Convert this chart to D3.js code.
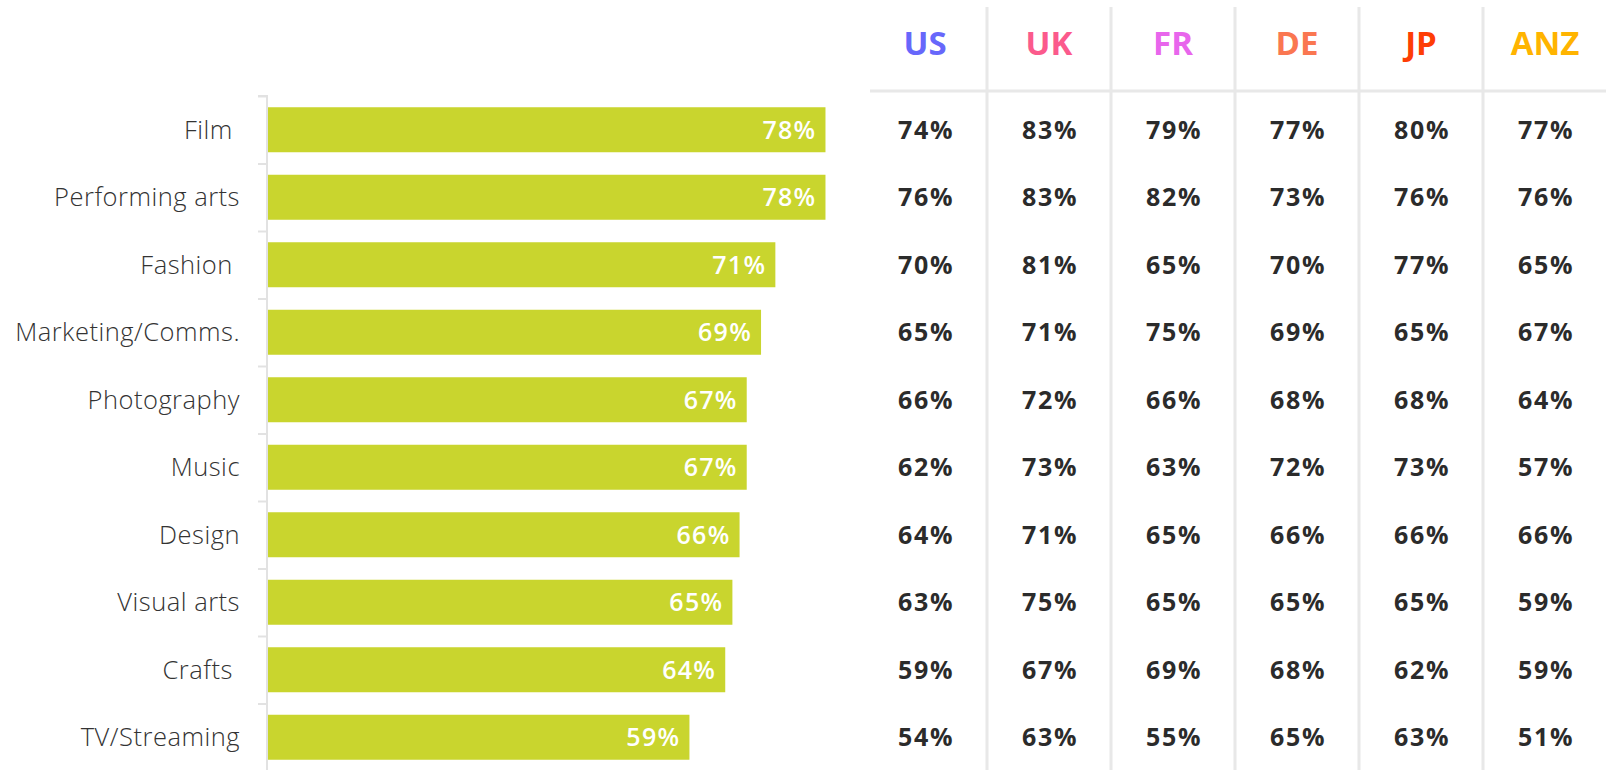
<!DOCTYPE html>
<html>
<head>
<meta charset="utf-8">
<script src="https://cdn.jsdelivr.net/npm/d3@7"></script>
<style>
  html, body { margin: 0; padding: 0; background: #fff; }
  svg { display: block; font-family: "Open Sans", Lato, sans-serif; }
  .cat { white-space: pre; }
</style>
</head>
<body>
<div id="chart"></div>
<script>
// categories (the trailing spaces are in the original labels)
const categories = ["Film ", "Performing arts", "Fashion ", "Marketing/Comms.", "Photography",
  "Music", "Design", "Visual arts", "Crafts ", "TV/Streaming"];
const globalValues = [78, 78, 71, 69, 67, 67, 66, 65, 64, 59];

const countries = ["US", "UK", "FR", "DE", "JP", "ANZ"];
const countryColors = ["#6767fb", "#fb5a8c", "#e866ec", "#fa7751", "#fe3d05", "#ffb400"];
const usValues = [74, 76, 70, 65, 66, 62, 64, 63, 59, 54];
const ukValues = [83, 83, 81, 71, 72, 73, 71, 75, 67, 63];
const frValues = [79, 82, 65, 75, 66, 63, 65, 65, 69, 55];
const deValues = [77, 73, 70, 69, 68, 72, 66, 65, 68, 65];
const jpValues = [80, 76, 77, 65, 68, 73, 66, 65, 62, 63];
const anzValues = [77, 76, 65, 67, 64, 57, 66, 59, 59, 51];
const countryValues = [usValues, ukValues, frValues, deValues, jpValues, anzValues];

const width = 1606, height = 770;
const barColor = "#c9d52e";
const gridColor = "#e8e8e8";

const svg = d3.select("#chart").append("svg")
  .attr("width", width)
  .attr("height", height);

// bar chart scales
const x = d3.scaleLinear().domain([0, 100]).range([267, 983]);
const y = d3.scaleBand()
  .domain(categories)
  .range([96, 771])
  .paddingInner(1 / 3)
  .paddingOuter(1 / 6);

// axis with ticks between the bars
const tickScale = d3.scaleLinear().domain([0, categories.length]).range([96, 771]);
svg.append("g")
  .attr("transform", `translate(${x(0)},0)`)
  .call(d3.axisLeft(tickScale).ticks(categories.length).tickSize(9).tickFormat(""))
  .call(g => g.selectAll("line, path").attr("stroke", "#e2e2e2").attr("stroke-width", 2))
  .call(g => g.select(".domain").attr("d", `M-9,${tickScale(0)}H0V${height}`));

const rows = categories.map((c, i) => ({ cat: c, value: globalValues[i], idx: i }));

svg.append("g").selectAll("rect")
  .data(rows)
  .join("rect")
  .attr("x", x(0) + 1)
  .attr("y", d => y(d.cat))
  .attr("width", d => x(d.value) - x(0) - 1)
  .attr("height", y.bandwidth())
  .attr("fill", barColor);

svg.append("g").selectAll("text")
  .data(rows)
  .join("text")
  .attr("x", d => x(d.value) - 9)
  .attr("y", d => y(d.cat) + y.bandwidth() / 2 + 9)
  .attr("text-anchor", "end")
  .attr("fill", "#fff")
  .attr("font-weight", 600)
  .attr("font-size", 25)
  .attr("letter-spacing", 1.3)
  .text(d => d.value + "%");

svg.append("g").selectAll("text")
  .data(rows)
  .join("text")
  .attr("class", "cat")
  .attr("x", 240)
  .attr("y", d => y(d.cat) + y.bandwidth() / 2 + 9)
  .attr("text-anchor", "end")
  .attr("fill", "#333")
  .attr("font-weight", 300)
  .attr("font-size", 25.5)
  .attr("letter-spacing", 0.5)
  .text(d => d.cat);

// country table
const col = d3.scaleBand().domain(countries).range([863, 1607]);

svg.append("g").selectAll("line")
  .data(countries.slice(0, -1))
  .join("line")
  .attr("x1", d => col(d) + col.bandwidth())
  .attr("x2", d => col(d) + col.bandwidth())
  .attr("y1", 7)
  .attr("y2", height)
  .attr("stroke", gridColor)
  .attr("stroke-width", 3);

svg.append("line")
  .attr("x1", 870).attr("x2", width)
  .attr("y1", 91).attr("y2", 91)
  .attr("stroke", gridColor)
  .attr("stroke-width", 3);

svg.append("g").selectAll("text")
  .data(countries)
  .join("text")
  .attr("x", d => col(d) + col.bandwidth() / 2)
  .attr("y", 55)
  .attr("text-anchor", "middle")
  .attr("font-weight", 700)
  .attr("font-size", 33)
  .attr("fill", (d, i) => countryColors[i])
  .text(d => d);

const cells = [];
countries.forEach((c, j) => {
  countryValues[j].forEach((v, i) => cells.push({ country: c, cat: categories[i], value: v }));
});

svg.append("g").selectAll("text")
  .data(cells)
  .join("text")
  .attr("x", d => col(d.country) + col.bandwidth() / 2 + 1)
  .attr("y", d => y(d.cat) + y.bandwidth() / 2 + 9)
  .attr("text-anchor", "middle")
  .attr("font-weight", 700)
  .attr("font-size", 25)
  .attr("letter-spacing", 1.7)
  .attr("fill", "#2b2b2b")
  .text(d => d.value + "%");
</script>
</body>
</html>
